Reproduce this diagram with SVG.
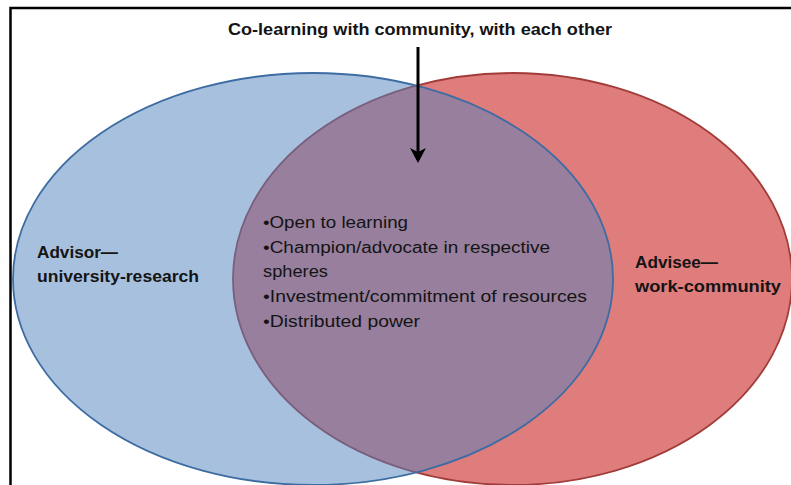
<svg xmlns="http://www.w3.org/2000/svg" width="791" height="485" viewBox="0 0 791 485">
<style>
  .frame { fill: none; stroke: #000; stroke-width: 2.5; }
  .red { fill: #DF7C7C; stroke: #A13C3A; stroke-width: 1.8; }
  .blue { fill: #4F81BD; fill-opacity: 0.5; stroke: #3D6CA3; stroke-width: 1.8; }
  .t { font-family: "Liberation Sans", Arial, sans-serif; fill: #141414; }
  .b { font-weight: bold; }
  .conn { stroke: #000; stroke-width: 3; fill: none; }
</style>
<defs>
  <marker id="arrow" markerUnits="userSpaceOnUse" markerWidth="20" markerHeight="20" refX="12" refY="8" orient="auto">
    <path d="M0,0 L15,8 L0,16 L4,8 Z" fill="#000"/>
  </marker>
</defs>
<rect width="791" height="485" fill="#fff"/>
<rect class="frame" x="10.5" y="8" width="800" height="500"/>

<g id="node-advisee">
  <ellipse class="red" cx="512.5" cy="279" rx="279.5" ry="206"/>
</g>
<g id="node-advisor">
  <ellipse class="blue" cx="313" cy="279" rx="300" ry="206"/>
</g>

<g id="label-advisor">
  <text class="t b" x="37" y="258" font-size="16" textLength="81" lengthAdjust="spacingAndGlyphs">Advisor—</text>
  <text class="t b" x="37" y="282" font-size="16" textLength="162" lengthAdjust="spacingAndGlyphs">university-research</text>
</g>
<g id="label-advisee">
  <text class="t b" x="635" y="268" font-size="16" textLength="83" lengthAdjust="spacingAndGlyphs">Advisee—</text>
  <text class="t b" x="635" y="292" font-size="16" textLength="146" lengthAdjust="spacingAndGlyphs">work-community</text>
</g>

<g id="node-overlap">
  <text class="t" x="263" y="228" font-size="16" textLength="145" lengthAdjust="spacingAndGlyphs">•Open to learning</text>
  <text class="t" x="263" y="253" font-size="16" textLength="287" lengthAdjust="spacingAndGlyphs">•Champion/advocate in respective</text>
  <text class="t" x="263" y="277" font-size="16" textLength="65" lengthAdjust="spacingAndGlyphs">spheres</text>
  <text class="t" x="263" y="302" font-size="16" textLength="324" lengthAdjust="spacingAndGlyphs">•Investment/commitment of resources</text>
  <text class="t" x="263" y="327" font-size="16" textLength="157" lengthAdjust="spacingAndGlyphs">•Distributed power</text>
</g>

<g id="node-title">
  <text class="t b" x="228" y="35" font-size="16" textLength="384" lengthAdjust="spacingAndGlyphs">Co-learning with community, with each other</text>
</g>

<g id="connectors">
  <line class="conn" x1="418" y1="47" x2="418" y2="160" marker-end="url(#arrow)"/>
</g>
</svg>
